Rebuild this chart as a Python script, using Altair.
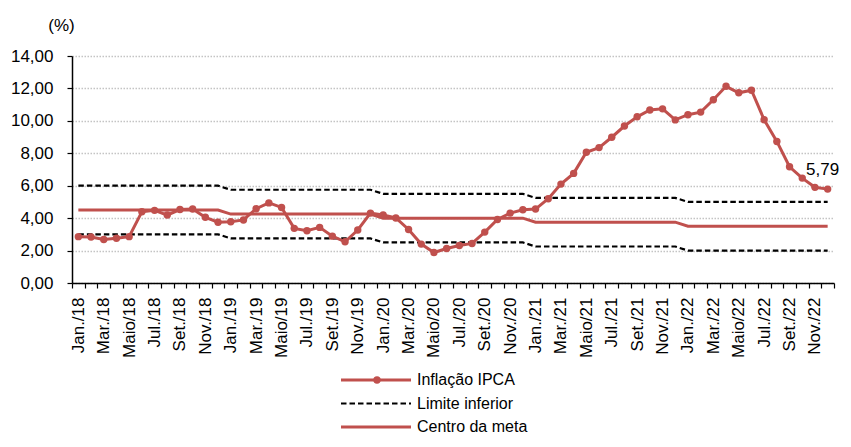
import altair as alt
import pandas as pd

FONT = "Liberation Sans"
RED = "#C0504D"

month_names = ["Jan.", "Fev.", "Mar.", "Abr.", "Maio", "Jun.", "Jul.", "Ago.", "Set.", "Out.", "Nov.", "Dez."]
years = ["18", "19", "20", "21", "22"]
labels = [f"{m}/{y}" for y in years for m in month_names]

ipca = [
    2.86, 2.84, 2.68, 2.76, 2.86, 4.39, 4.48, 4.19, 4.53, 4.56, 4.05, 3.75,
    3.78, 3.89, 4.58, 4.94, 4.66, 3.37, 3.22, 3.43, 2.89, 2.54, 3.27, 4.31,
    4.19, 4.01, 3.30, 2.40, 1.88, 2.13, 2.31, 2.44, 3.14, 3.92, 4.31, 4.52,
    4.56, 5.20, 6.10, 6.76, 8.06, 8.35, 8.99, 9.68, 10.25, 10.67, 10.74, 10.06,
    10.38, 10.54, 11.30, 12.13, 11.73, 11.89, 10.07, 8.73, 7.17, 6.47, 5.90, 5.79,
]
centro_anual = [4.50, 4.25, 4.00, 3.75, 3.50]
inferior_anual = [3.00, 2.75, 2.50, 2.25, 2.00]
superior_anual = [6.00, 5.75, 5.50, 5.25, 5.00]

centro = [v for v in centro_anual for _ in range(12)]
inferior = [v for v in inferior_anual for _ in range(12)]
superior = [v for v in superior_anual for _ in range(12)]

rows = []
for i, lab in enumerate(labels):
    rows.append({"mes": lab, "serie": "Inflação IPCA", "valor": ipca[i]})
    rows.append({"mes": lab, "serie": "Centro da meta", "valor": centro[i]})
    rows.append({"mes": lab, "serie": "Limite inferior", "valor": inferior[i]})
    rows.append({"mes": lab, "serie": "Limite superior", "valor": superior[i]})
df = pd.DataFrame(rows)

W, H = 762, 227

x_enc = alt.X(
    "mes:N",
    sort=labels,
    scale=alt.Scale(type="band", paddingInner=0, paddingOuter=0),
    axis=alt.Axis(
        title=None,
        labelAngle=-90,
        labelExpr="indexof(['Jan.','Mar.','Maio','Jul.','Set.','Nov.'], split(datum.value,'/')[0]) >= 0 ? datum.value : ''",
        tickBand="extent",
        tickSize=5,
        tickColor="black",
        domainColor="black",
        domainWidth=1.5,
        tickWidth=1.2,
        labelPadding=9,
        labelFont=FONT,
        labelFontSize=17,
        labelColor="black",
        labelOverlap=False,
        grid=False,
    ),
)
y_enc = alt.Y(
    "valor:Q",
    scale=alt.Scale(domain=[0, 14], nice=False, zero=True),
    axis=alt.Axis(
        values=[0, 2, 4, 6, 8, 10, 12, 14],
        labelExpr="replace(format(datum.value, '.2f'), '.', ',')",
        labelOverlap=False,
        labelFlush=False,
        grid=True,
        gridDash=[1.5, 1.5],
        gridColor="#C4C4C4",
        gridWidth=1.3,
        tickSize=5,
        tickColor="black",
        tickWidth=1.2,
        domainColor="black",
        domainWidth=1.5,
        labelPadding=14,
        labelFont=FONT,
        labelFontSize=17,
        labelColor="black",
        title="(%)",
        titleAngle=0,
        titleX=-11,
        titleY=-31,
        titleAlign="center",
        titleBaseline="middle",
        titleFont=FONT,
        titleFontSize=17,
        titleFontWeight="normal",
        titleColor="black",
    ),
)

base = alt.Chart(df)

limites = base.transform_filter(
    "datum.serie == 'Limite inferior' || datum.serie == 'Limite superior'"
).mark_line(color="black", strokeWidth=2.2, strokeDash=[5.5, 3]).encode(
    x=x_enc, y=y_enc, detail="serie:N",
)
meta = base.transform_filter("datum.serie == 'Centro da meta'").mark_line(
    color=RED, strokeWidth=3
).encode(x=x_enc, y=y_enc)
ipca_line = base.transform_filter("datum.serie == 'Inflação IPCA'").mark_line(
    color=RED, strokeWidth=3, point=alt.OverlayMarkDef(color=RED, size=55, filled=True, opacity=1)
).encode(x=x_enc, y=y_enc)
rotulo = base.transform_filter(
    f"datum.serie == 'Inflação IPCA' && datum.mes == '{labels[-1]}'"
).transform_calculate(
    txt="replace(format(datum.valor, '.2f'), '.', ',')"
).mark_text(font=FONT, fontSize=17, color="black", dx=-5, dy=-19, align="center").encode(
    x=x_enc, y=y_enc, text="txt:N"
)

main = alt.layer(limites, meta, ipca_line, rotulo).properties(width=W, height=H)

legend_series = ["Inflação IPCA", "Limite inferior", "Centro da meta"]
legend_df = pd.DataFrame({"serie": legend_series, "ordem": [0, 1, 2]})
leg_color = alt.Color("serie:N", scale=alt.Scale(domain=legend_series, range=[RED, "black", RED]), legend=None)
leg_dash = alt.StrokeDash(
    "serie:N", scale=alt.Scale(domain=legend_series, range=[[1, 0], [5.5, 3], [1, 0]]), legend=None
)
leg_y = alt.Y("ordem:Q", axis=None, scale=alt.Scale(domain=[-0.511, 2.34], reverse=True, nice=False, zero=False))
lb = alt.Chart(legend_df)
leg_rules = lb.mark_rule().encode(
    x=alt.value(269), x2=alt.value(339), y=leg_y, color=leg_color, strokeDash=leg_dash,
    strokeWidth=alt.condition("datum.serie == 'Limite inferior'", alt.value(2.2), alt.value(3)),
)
leg_pts = lb.transform_filter("datum.serie == 'Inflação IPCA'").mark_point(
    filled=True, size=55, color=RED, opacity=1
).encode(x=alt.value(305), y=leg_y)
leg_txt = lb.mark_text(font=FONT, fontSize=16, color="black", align="left", baseline="middle").encode(
    x=alt.value(345), y=leg_y, text="serie:N"
)
legend = alt.layer(leg_rules, leg_pts, leg_txt).properties(width=W, height=67)

chart = alt.vconcat(main, legend, spacing=10).properties(
    padding={"left": 2, "top": 8, "right": 0, "bottom": 0}
).configure(background="white").configure_view(stroke=None)

chart.save("out.html", embed_options={"renderer": "svg", "actions": False})
